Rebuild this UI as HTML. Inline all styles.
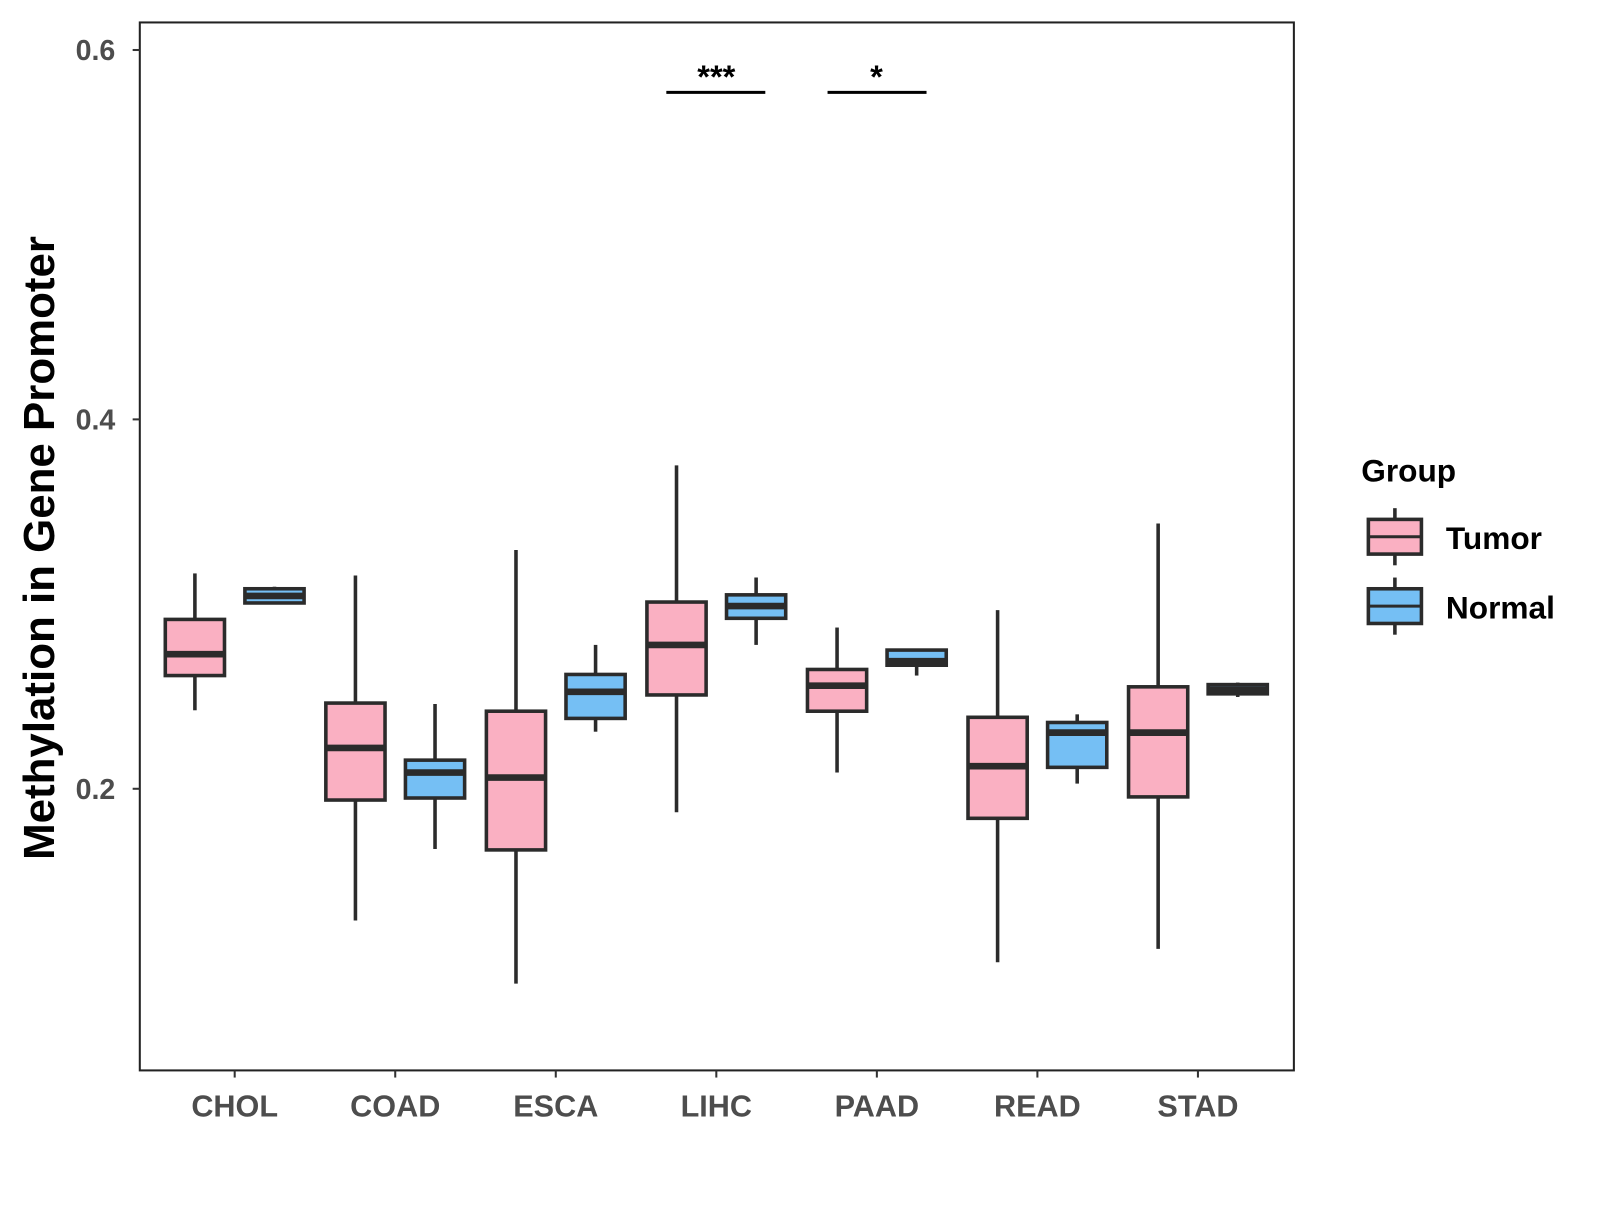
<!DOCTYPE html>
<html><head><meta charset="utf-8"><style>
body{margin:0;background:#fff;}
svg text{font-family:"Liberation Sans",Arial,sans-serif;font-weight:bold;}
</style></head><body>
<svg id="chart" width="1600" height="1200" viewBox="0 0 1568 1176" xmlns="http://www.w3.org/2000/svg">
<rect x="137" y="22" width="1131" height="1027" fill="#fff" stroke="#222" stroke-width="2"/>
<g id="yaxis"></g>
<g id="xaxis"></g>
<g id="boxes"></g>
<text transform="translate(53,537) rotate(-90)" text-anchor="middle" font-size="43" fill="#000">Methylation in Gene Promoter</text>
<g>
<line x1="653" x2="750" y1="90.5" y2="90.5" stroke="#000" stroke-width="3"/>
<text x="702" y="86" text-anchor="middle" font-size="32">***</text></g>
<g>
<line x1="811" x2="908" y1="90.5" y2="90.5" stroke="#000" stroke-width="3"/>
<text x="859" y="86" text-anchor="middle" font-size="32">*</text></g>
<g>
<text x="1334" y="472" font-size="31" fill="#000">Group</text>
<g>
<line x1="1367" x2="1367" y1="498" y2="554" stroke="#2b2b2b" stroke-width="3.5"/>
<rect x="1341" y="509" width="52" height="34" fill="#FAB0C2" stroke="#2b2b2b" stroke-width="3.5"/>
<line x1="1341" x2="1393" y1="526" y2="526" stroke="#2b2b2b" stroke-width="3"/>
<text x="1417" y="538" font-size="31" fill="#000">Tumor</text></g>
<g>
<line x1="1367" x2="1367" y1="566" y2="622" stroke="#2b2b2b" stroke-width="3.5"/>
<rect x="1341" y="577" width="52" height="34" fill="#75BFF4" stroke="#2b2b2b" stroke-width="3.5"/>
<line x1="1341" x2="1393" y1="594" y2="594" stroke="#2b2b2b" stroke-width="3"/>
<text x="1417" y="606" font-size="31" fill="#000">Normal</text></g>
</g>
</svg>
<script>
const categories=["CHOL","COAD","ESCA","LIHC","PAAD","READ","STAD"];
const tumorMin=[0.2425,0.1287,0.0945,0.1873,0.2088,0.1061,0.1133];
const tumorQ1=[0.2613,0.1939,0.1669,0.2508,0.2420,0.1840,0.1956];
const tumorMed=[0.2729,0.2221,0.2061,0.2779,0.2558,0.2122,0.2304];
const tumorQ3=[0.2917,0.2464,0.2420,0.3011,0.2646,0.2387,0.2552];
const tumorMax=[0.3166,0.3155,0.3293,0.3751,0.2873,0.2967,0.3436];
const normalMin=[0.3006,0.1674,0.2309,0.2779,0.2613,0.2028,0.2497];
const normalQ1=[0.3006,0.1950,0.2381,0.2923,0.2669,0.2116,0.2514];
const normalMed=[0.3044,0.2088,0.2525,0.2989,0.2691,0.2304,0.2536];
const normalQ3=[0.3083,0.2155,0.2619,0.3050,0.2751,0.2359,0.2564];
const normalMax=[0.3094,0.2459,0.2779,0.3144,0.2751,0.2403,0.2575];
const yTicks=[0.2,0.4,0.6];
const yTickLabels=["0.2","0.4","0.6"];

const NS="http://www.w3.org/2000/svg";
const y=v=>773-(v-0.2)*1810;
const x=i=>230+i*157.33;
function mk(tag,attrs,parent){const e=document.createElementNS(NS,tag);for(const k in attrs)e.setAttribute(k,attrs[k]);parent.appendChild(e);return e;}
const ya=document.getElementById('yaxis');
yTicks.forEach((t,i)=>{
  const l=mk('line',{x1:130,x2:137,y1:y(t),y2:y(t),stroke:'#333','stroke-width':2},ya);
  
  
  const tx=mk('text',{x:113,y:y(t)+10,'text-anchor':'end','font-size':28,fill:'#4d4d4d'},ya);
  tx.textContent=yTickLabels[i];
  
  
});
const xa=document.getElementById('xaxis');
categories.forEach((c,i)=>{
  const l=mk('line',{x1:x(i),x2:x(i),y1:1049,y2:1056,stroke:'#333','stroke-width':2},xa);
  
  
  const tx=mk('text',{x:x(i),y:1094,'text-anchor':'middle','font-size':30,fill:'#4d4d4d'},xa);
  tx.textContent=c;
  
  
});
const bx=document.getElementById('boxes');
function box(cx,mn,q1,md,q3,mx,fill,name){
  const g=mk('g',{},bx);
  
  
  const s={stroke:'#2b2b2b','stroke-width':3.5};
  mk('line',Object.assign({x1:cx,x2:cx,y1:y(mx),y2:y(q3)},s),g);
  mk('line',Object.assign({x1:cx,x2:cx,y1:y(q1),y2:y(mn)},s),g);
  mk('rect',Object.assign({x:cx-29,y:y(q3),width:58,height:Math.max(1,y(q1)-y(q3)),fill:fill},s),g);
  mk('line',{x1:cx-29,x2:cx+29,y1:y(md),y2:y(md),stroke:'#2b2b2b','stroke-width':6.5},g);
}
categories.forEach((c,i)=>{
  box(x(i)-39,tumorMin[i],tumorQ1[i],tumorMed[i],tumorQ3[i],tumorMax[i],'#FAB0C2','box-tumor-'+c.toLowerCase());
  box(x(i)+39,normalMin[i],normalQ1[i],normalMed[i],normalQ3[i],normalMax[i],'#75BFF4','box-normal-'+c.toLowerCase());
});
</script>
</body></html>
